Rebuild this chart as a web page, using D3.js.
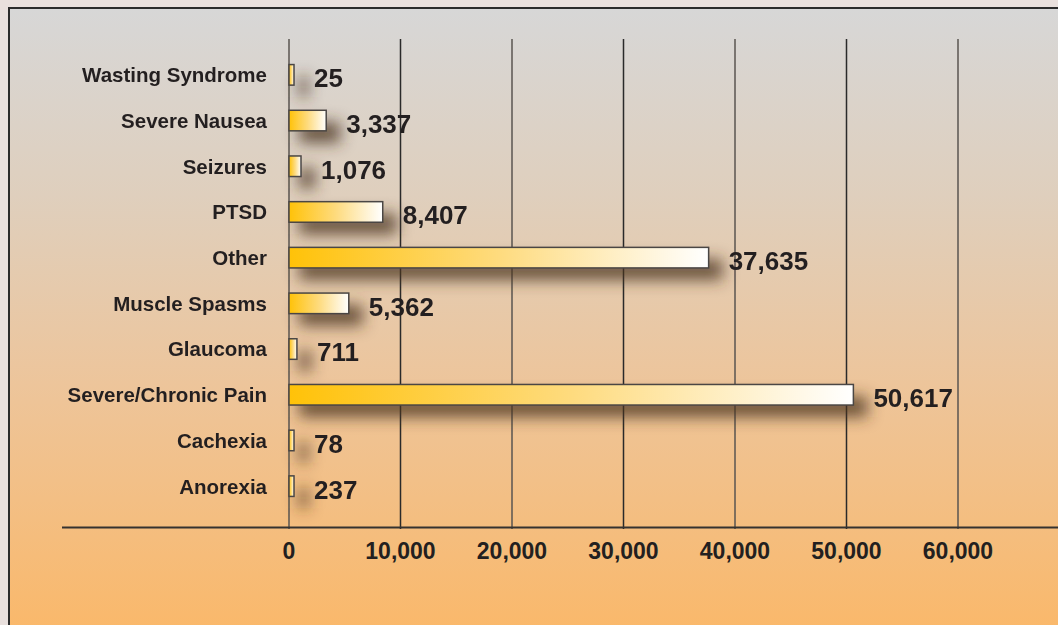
<!DOCTYPE html>
<html>
<head>
<meta charset="utf-8">
<script src="https://cdn.jsdelivr.net/npm/d3@7"></script>
<style>
  html, body { margin: 0; padding: 0; background: #e9e0dd; }
  svg { display: block; }
  text { font-family: "Liberation Sans", Arial, sans-serif; font-weight: 700; fill: #231f20; }
</style>
</head>
<body>
<div id="chart"></div>
<script>
const categories = [
  "Wasting Syndrome", "Severe Nausea", "Seizures", "PTSD", "Other",
  "Muscle Spasms", "Glaucoma", "Severe/Chronic Pain", "Cachexia", "Anorexia"
]
const patients = [25, 3337, 1076, 8407, 37635, 5362, 711, 50617, 78, 237]
const tickValues = [0, 10000, 20000, 30000, 40000, 50000, 60000]

const width = 1058
const height = 625
const MIN_BAR = 5 // keep tiny bars visible, like the original
const fmt = d3.format(",")

const svg = d3.select("#chart")
  .append("svg")
  .attr("width", width)
  .attr("height", height)

const defs = svg.append("defs")

// panel background: grey at top to orange at bottom
const bg = defs.append("linearGradient")
  .attr("id", "bg")
  .attr("x1", 0).attr("y1", 0).attr("x2", 0).attr("y2", 1)
bg.selectAll("stop")
  .data([[0, "#d7d7d7"], [0.3, "#dfcfbd"], [0.6, "#edc59b"], [1, "#fab86a"]])
  .join("stop")
  .attr("offset", d => d[0])
  .attr("stop-color", d => d[1])

// bar fill: gold to white
const barGrad = defs.append("linearGradient")
  .attr("id", "barGrad")
  .attr("x1", 0).attr("y1", 0).attr("x2", 1).attr("y2", 0)
barGrad.selectAll("stop")
  .data([[0, "#ffc208"], [0.5, "#fedb7e"], [1, "#ffffff"]])
  .join("stop")
  .attr("offset", d => d[0])
  .attr("stop-color", d => d[1])

const shadow = defs.append("filter")
  .attr("id", "shadow")
  .attr("filterUnits", "userSpaceOnUse")
  .attr("x", 0).attr("y", 0).attr("width", width).attr("height", height)
shadow.append("feGaussianBlur").attr("stdDeviation", 7.5)

// outer frame
svg.append("rect")
  .attr("x", 9).attr("y", 8)
  .attr("width", width).attr("height", height)
  .attr("fill", "url(#bg)")
  .attr("stroke", "#2b2b2b")
  .attr("stroke-width", 2)

const x = d3.scaleLinear()
  .domain([0, 60000])
  .range([289, 958])

const y = d3.scaleBand()
  .domain(categories)
  .range([52, 509])
  .paddingInner(0.55)
  .paddingOuter(0.275)

const barW = v => Math.max(x(v) - x(0), MIN_BAR)

// vertical grid lines
svg.append("g")
  .selectAll("line")
  .data(tickValues)
  .join("line")
  .attr("x1", d => x(d)).attr("x2", d => x(d))
  .attr("y1", 39).attr("y2", 529)
  .attr("stroke", (d, i) => i % 2 ? "#2a2a2a" : "#5a5550")
  .attr("stroke-width", 1.5)

// baseline axis
svg.append("line")
  .attr("x1", 62).attr("x2", width)
  .attr("y1", 527.5).attr("y2", 527.5)
  .attr("stroke", "#353230")
  .attr("stroke-width", 2.2)

// tick labels
svg.append("g")
  .selectAll("text")
  .data(tickValues)
  .join("text")
  .attr("x", d => x(d))
  .attr("y", 559)
  .attr("text-anchor", "middle")
  .attr("font-size", 23)
  .text(d => fmt(d))

const rows = categories.map((c, i) => ({ cat: c, value: patients[i] }))

// bar shadows
svg.append("g")
  .attr("filter", "url(#shadow)")
  .selectAll("rect")
  .data(rows)
  .join("rect")
  .attr("x", x(0) + 10)
  .attr("y", d => y(d.cat) + 12)
  .attr("width", d => barW(d.value) + 4)
  .attr("height", y.bandwidth())
  .attr("fill", "#4a3520")
  .attr("opacity", 0.8)

// bars
svg.append("g")
  .selectAll("rect")
  .data(rows)
  .join("rect")
  .attr("x", x(0))
  .attr("y", d => y(d.cat))
  .attr("width", d => barW(d.value))
  .attr("height", y.bandwidth())
  .attr("fill", "url(#barGrad)")
  .attr("stroke", "#4a4644")
  .attr("stroke-width", 1.5)

// category labels
svg.append("g")
  .selectAll("text")
  .data(rows)
  .join("text")
  .attr("x", 267)
  .attr("y", d => y(d.cat) + y.bandwidth() / 2)
  .attr("dy", "0.36em")
  .attr("text-anchor", "end")
  .attr("font-size", 20.5)
  .text(d => d.cat)

// value labels
svg.append("g")
  .selectAll("text")
  .data(rows)
  .join("text")
  .attr("x", d => x(0) + barW(d.value) + 20)
  .attr("y", d => y(d.cat) + y.bandwidth() / 2 + 3)
  .attr("dy", "0.36em")
  .attr("font-size", 26)
  .text(d => fmt(d.value))
</script>
</body>
</html>
